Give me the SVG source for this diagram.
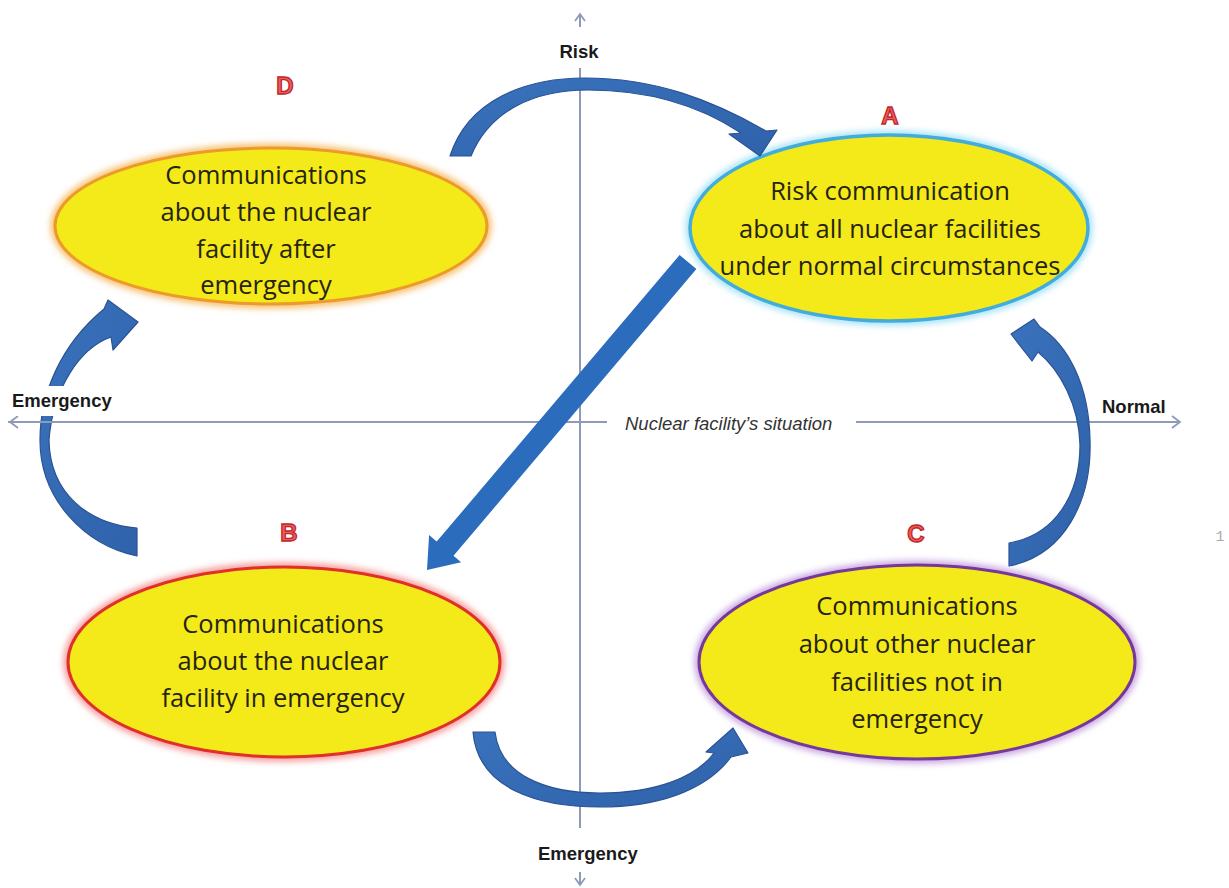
<svg xmlns="http://www.w3.org/2000/svg" width="1229" height="888" viewBox="0 0 1229 888">
<defs>
<filter id="glow" x="-20%" y="-20%" width="140%" height="140%"><feGaussianBlur stdDeviation="3"/></filter>
<linearGradient id="blue" x1="0" y1="0" x2="1" y2="1"><stop offset="0" stop-color="#3a72bd"/><stop offset="1" stop-color="#2f62aa"/></linearGradient>
</defs>
<style>
.axis{stroke:#8e9ab8;stroke-width:2;fill:none}
.chev{stroke:#8e9ab8;stroke-width:1.8;fill:none}
.axlab{font-family:"Liberation Sans",Arial,sans-serif;font-weight:bold;font-size:18.5px;fill:#1a1a1a}
.sit{font-family:"Liberation Sans",Arial,sans-serif;font-style:italic;font-size:18.5px;fill:#333}
.body{font-family:"Open Sans","Liberation Sans",sans-serif;font-size:25.5px;fill:#262410;text-anchor:middle}
.letter{font-family:"Liberation Sans",Arial,sans-serif;font-weight:bold;font-size:24px;fill:#e6605a;stroke:#c4232a;stroke-width:1.3;text-anchor:middle}
.fill{fill:#f4ea1a}
.arc{fill:url(#blue);stroke:#2a5394;stroke-width:1.2;stroke-linejoin:round}
</style>
<rect width="1229" height="888" fill="#ffffff"/>

<g id="axes">
<line class="axis" x1="580" y1="68" x2="580" y2="828"/>
<line class="axis" x1="580" y1="14" x2="580" y2="27"/>
<polyline class="chev" points="575,21 580,14 585,21"/>
<line class="axis" x1="580" y1="872" x2="580" y2="885"/>
<polyline class="chev" points="575,878 580,885 585,878"/>
<line class="axis" x1="10" y1="422" x2="607" y2="422"/>
<polyline class="chev" points="18,416 10,422 18,428"/>
<line class="axis" x1="856" y1="422" x2="1180" y2="422"/>
<polyline class="chev" points="1172,416 1180,422 1172,428"/>
<text class="axlab" x="579" y="58" text-anchor="middle">Risk</text>
<text class="axlab" x="1102" y="413">Normal</text>
<text class="axlab" x="538" y="860">Emergency</text>
<text class="sit" x="625" y="430">Nuclear facility’s situation</text>
</g>

<g id="node-D">
<ellipse cx="271" cy="226" rx="216" ry="78" fill="none" stroke="#f7c070" stroke-width="9" filter="url(#glow)"/>
<ellipse class="fill" cx="271" cy="226" rx="216" ry="78" stroke="#ec9a2a" stroke-width="3"/>
<text class="letter" x="285" y="94">D</text>
<text class="body" x="266" y="184">Communications</text>
<text class="body" x="266" y="221">about the nuclear</text>
<text class="body" x="266" y="258">facility after</text>
<text class="body" x="266" y="294">emergency</text>
</g>

<g id="node-A">
<ellipse cx="889" cy="228" rx="199" ry="93" fill="none" stroke="#a6e2f6" stroke-width="9" filter="url(#glow)"/>
<ellipse class="fill" cx="889" cy="228" rx="199" ry="93" stroke="#42acdc" stroke-width="3.5"/>
<text class="letter" x="890" y="124">A</text>
<text class="body" x="890" y="200">Risk communication</text>
<text class="body" x="890" y="238">about all nuclear facilities</text>
<text class="body" x="890" y="275">under normal circumstances</text>
</g>

<g id="node-B">
<ellipse cx="284" cy="662" rx="216" ry="95" fill="none" stroke="#f59a9a" stroke-width="9" filter="url(#glow)"/>
<ellipse class="fill" cx="284" cy="662" rx="216" ry="95" stroke="#e0302a" stroke-width="3"/>
<text class="letter" x="289" y="541">B</text>
<text class="body" x="283" y="633">Communications</text>
<text class="body" x="283" y="670">about the nuclear</text>
<text class="body" x="283" y="707">facility in emergency</text>
</g>

<g id="node-C">
<ellipse cx="917" cy="662" rx="218" ry="97" fill="none" stroke="#c8a4e2" stroke-width="9" filter="url(#glow)"/>
<ellipse class="fill" cx="917" cy="662" rx="218" ry="97" stroke="#76399a" stroke-width="3"/>
<text class="letter" x="916" y="542">C</text>
<text class="body" x="917" y="615">Communications</text>
<text class="body" x="917" y="653">about other nuclear</text>
<text class="body" x="917" y="691">facilities not in</text>
<text class="body" x="917" y="728">emergency</text>
</g>

<g id="connectors">
<path id="arc-D-A" class="arc" d="M 450,156 C 468,100 525,78 585,78 C 655,78 712,100 766,131 L 777,130 L 760,156 L 729,134 L 741,133 C 700,106 650,90 588,90 C 535,90 490,110 471,156 Z"/>
<polygon id="arrow-A-B" fill="#2b6cbd" points="679.6,254.9 696.4,269.1 453.5,555.8 461.1,562.3 427,570 429.1,535.1 436.7,541.6"/>
<path id="arc-B-D" class="arc" d="M 137,556 C 85,545 40,500 40,440 C 40,395 60,345 104,309 L 108,300 L 138,322 L 113,350 L 111,337 C 80,348 53,388 49,440 C 50,495 90,524 137,528 Z"/>
<path id="arc-C-A" class="arc" d="M 1009,566 C 1065,555 1092,500 1090,440 C 1089,385 1068,345 1040,327 L 1034,319 L 1011,334 L 1032,361 L 1038,352 C 1060,370 1079,405 1080,445 C 1080,495 1055,535 1009,543 Z"/>
<path id="arc-B-C" class="arc" d="M 473,732 C 478,790 540,807 600,807 C 655,807 705,792 731,757 L 748,753 L 733,728 L 706,752 L 714,753 C 695,778 655,793 600,793 C 545,793 500,775 495,732 Z"/>
</g>

<g id="labels-over">
<rect x="8" y="386" width="110" height="30" fill="#ffffff"/>
<line class="axis" x1="8" y1="422" x2="120" y2="422"/>
<text class="axlab" x="12" y="407">Emergency</text>
<text x="1220" y="541" font-family="Liberation Mono,monospace" font-size="15" fill="#aaaaaa" text-anchor="middle">1</text>
</g>
</svg>
